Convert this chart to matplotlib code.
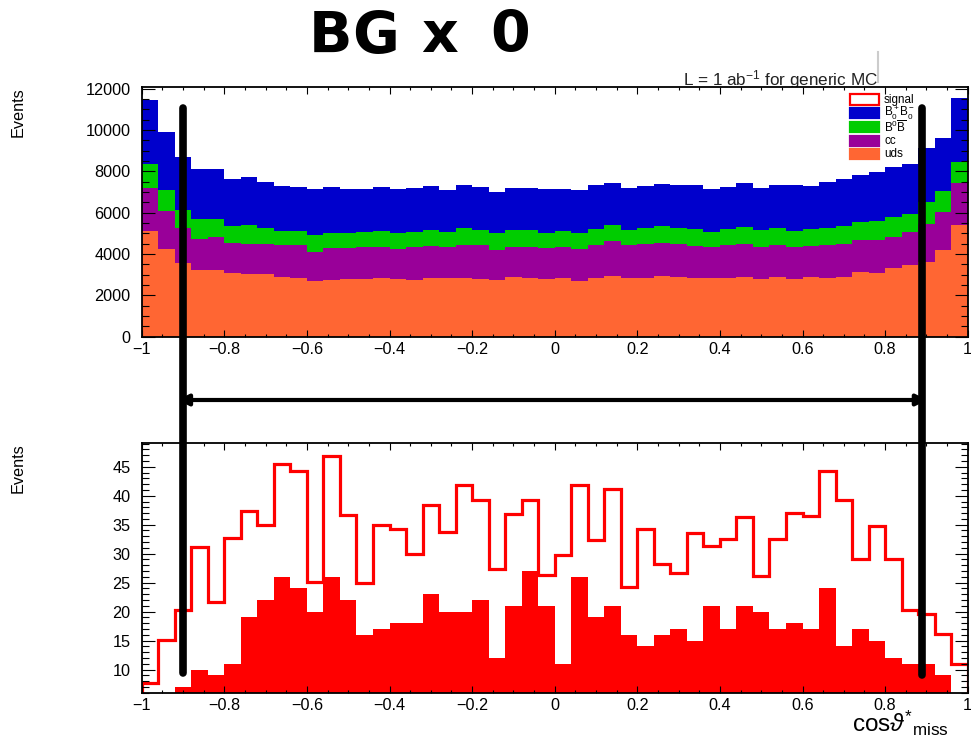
import numpy as np
import matplotlib
matplotlib.use("Agg")
import matplotlib.pyplot as plt
from matplotlib.ticker import MultipleLocator
from matplotlib.transforms import blended_transform_factory
from matplotlib.lines import Line2D
from matplotlib.patches import Rectangle, FancyArrowPatch

plt.rcParams['font.family'] = ['Liberation Sans', 'DejaVu Sans']
plt.rcParams['mathtext.fontset'] = 'custom'
plt.rcParams['mathtext.rm'] = 'Liberation Sans'
plt.rcParams['mathtext.it'] = 'Liberation Sans:italic'

# ---------------- data ----------------
bin_edges = np.linspace(-1.0, 1.0, 51)

uds = [5110, 4230, 3550, 3230, 3230, 3100, 3030, 3030, 2900, 2820,
       2690, 2740, 2770, 2770, 2840, 2790, 2730, 2840, 2840, 2820,
       2790, 2740, 2870, 2820, 2770, 2820, 2710, 2820, 2950, 2850,
       2850, 2940, 2870, 2820, 2820, 2850, 2900, 2770, 2900, 2790,
       2870, 2820, 2900, 3150, 3100, 3310, 3470, 3600, 4190, 5400]
cc = [2110, 1860, 1690, 1480, 1610, 1420, 1480, 1480, 1530, 1610,
      1420, 1530, 1500, 1550, 1520, 1440, 1630, 1550, 1520, 1610,
      1650, 1480, 1480, 1500, 1500, 1530, 1520, 1610, 1680, 1580,
      1630, 1610, 1610, 1580, 1530, 1580, 1610, 1580, 1530, 1560,
      1520, 1610, 1610, 1530, 1590, 1530, 1590, 1850, 1860, 2020]
b0b0bar = [1130, 1020, 890, 970, 840, 840, 890, 730, 690, 690,
           810, 730, 760, 760, 770, 770, 730, 770, 730, 840,
           730, 810, 810, 840, 760, 760, 770, 760, 770, 730,
           760, 810, 760, 790, 730, 760, 810, 810, 810, 770,
           820, 840, 840, 890, 910, 940, 870, 1080, 1000, 1050]
bpbm = [3130, 2780, 2580, 2420, 2420, 2260, 2310, 2230, 2190, 2130,
        2210, 2260, 2100, 2050, 2100, 2150, 2100, 2130, 2020, 2080,
        2060, 1950, 2020, 2050, 2100, 2020, 2100, 2150, 2060, 2060,
        2050, 2020, 2080, 2150, 2070, 2070, 2100, 2060, 2100, 2210,
        2080, 2230, 2260, 2260, 2370, 2410, 2420, 2620, 2550, 3070]

signal_all = [7.7, 15.1, 20.2, 31.1, 21.6, 32.7, 37.3, 35.0, 45.5, 44.2,
              25.1, 46.8, 36.6, 24.9, 34.9, 34.3, 30.0, 38.4, 33.8, 41.8,
              39.2, 27.4, 36.9, 39.2, 26.4, 29.7, 41.9, 32.3, 41.2, 24.3,
              34.2, 28.3, 26.6, 33.6, 31.3, 32.6, 36.4, 26.2, 32.6, 37.1,
              36.5, 44.3, 39.2, 29.1, 34.8, 29.1, 20.3, 19.6, 16.2, 11.0]
signal_sel = [6, 6, 7, 10, 9, 11, 19, 22, 26, 24,
              20, 26, 22, 16, 17, 18, 18, 23, 20, 20,
              22, 12, 21, 27, 21, 11, 26, 19, 21, 16,
              14, 16, 17, 15, 21, 17, 21, 20, 17, 18,
              17, 24, 14, 17, 15, 12, 11, 11, 9, 6]

cut_low, cut_high = -0.9, 0.889

layer_names = ['uds', 'cc', r'$\mathregular{B^0\overline{B}}$', r'$\mathregular{B^+_0B^-_0}$']
layer_colors = ['#ff6633', '#990099', '#00cc00', '#0000cc']
x_ticks = [-1, -0.8, -0.6, -0.4, -0.2, 0, 0.2, 0.4, 0.6, 0.8, 1]
x_tick_labels = ['\u22121', '\u22120.8', '\u22120.6', '\u22120.4', '\u22120.2', '0',
                 '0.2', '0.4', '0.6', '0.8', '1']
title_chars = ['B', 'G', 'x', '0']

# ---------------- figure ----------------
W, H = 971, 741
fig = plt.figure(figsize=(W / 100, H / 100), dpi=100)


def px_axes(l, t, r, b):
    return fig.add_axes([l / W, 1 - b / H, (r - l) / W, (b - t) / H])


ax1 = px_axes(141.7, 86.7, 967.7, 336.7)
ax2 = px_axes(141.7, 443.0, 967.7, 693.0)

# stacked background
cum = np.zeros(len(uds))
for vals, col in zip([uds, cc, b0b0bar, bpbm], layer_colors):
    top = cum + np.asarray(vals, dtype=float)
    ax1.stairs(top, bin_edges, baseline=cum.copy(), fill=True, color=col, lw=0)
    cum = top
ax1.set_xlim(-1, 1)
ax1.set_ylim(0, 12100)

# signal
ax2.stairs(signal_sel, bin_edges, baseline=0, fill=True, color='#ff0000', lw=0)
ax2.stairs(signal_all, bin_edges, baseline=0, fill=False, color='#ff0000', lw=2.3)
ax2.set_xlim(-1, 1)
ax2.set_ylim(5.95, 49.1)

for ax in (ax1, ax2):
    ax.set_xticks(x_ticks)
    ax.set_xticklabels(x_tick_labels)
    ax.xaxis.set_minor_locator(MultipleLocator(0.05))
    ax.tick_params(which='both', direction='in', top=True, right=True,
                   width=0.8, labelsize=11.7, colors='black')
    ax.tick_params(axis='x', which='major', length=5, pad=3.5)
    ax.tick_params(axis='x', which='minor', length=2.5)
    ax.tick_params(axis='y', which='major', length=9.4, pad=8)
    ax.tick_params(axis='y', which='minor', length=4.7)
    for s in ax.spines.values():
        s.set_linewidth(1.3)

ax1.yaxis.set_major_locator(MultipleLocator(2000))
ax1.yaxis.set_minor_locator(MultipleLocator(500))
ax2.yaxis.set_major_locator(MultipleLocator(5))
ax2.yaxis.set_minor_locator(MultipleLocator(1))

# y labels
fig.text(18 / W, 1 - 87 / H, 'Events', rotation=90, ha='center', va='top', fontsize=11.7)
fig.text(18 / W, 1 - 443 / H, 'Events', rotation=90, ha='center', va='top', fontsize=11.7)

# x label
fig.text(852 / W, 1 - 732 / H, r'cos$\vartheta^{*}{}_{\mathregular{miss}}$',
         ha='left', va='baseline', fontsize=17.5)

# luminosity label (partly hidden under the plot frame)
fig.text(683 / W, 1 - 85 / H, r'L = 1 ab$^{-1}$ for generic MC', ha='left',
         va='baseline', fontsize=12.3, color='#222222', zorder=-1)
fig.add_artist(Line2D([878 / W, 878 / W], [1 - 52 / H, 1 - 82 / H],
                      transform=fig.transFigure, color='#cccccc', lw=1.5))

# legend (manual, ROOT style)
leg_rows = [99.5, 113.2, 126.9, 140.6, 154.3]
leg_items = [('signal', 'white', '#ff0000')] + \
    [(n, c, c) for n, c in zip(layer_names[::-1], layer_colors[::-1])]
for yrow, (lab, fc, ec) in zip(leg_rows, leg_items):
    fig.add_artist(Rectangle((850 / W, 1 - (yrow + 5) / H), 29 / W, 10 / H,
                             transform=fig.transFigure, facecolor=fc,
                             edgecolor=ec, lw=1.6, zorder=5))
    fig.text(884 / W, 1 - yrow / H, lab, ha='left', va='center', fontsize=8.4, zorder=5)

# hand drawn title
for ch, xc in zip(title_chars, [330, 376, 440, 510]):
    fig.text(xc / W, 1 - 37 / H, ch, ha='center', va='center', fontsize=41,
             fontweight='bold', family='DejaVu Sans')

# hand drawn cut markers
btf = blended_transform_factory(ax1.transData, fig.transFigure)
for xc, ybot in ((cut_low, 673), (cut_high, 675)):
    ln = Line2D([xc, xc], [1 - 108 / H, 1 - ybot / H], transform=btf,
                color='black', lw=5.5, zorder=6, solid_capstyle='round')
    fig.add_artist(ln)

arr = FancyArrowPatch((cut_low - 0.02, 1 - 400 / H), (cut_high + 0.02, 1 - 400 / H),
                      transform=btf, arrowstyle='<|-|>', mutation_scale=16,
                      color='black', lw=3, zorder=6)
fig.add_artist(arr)

fig.savefig('out.png', dpi=100)
